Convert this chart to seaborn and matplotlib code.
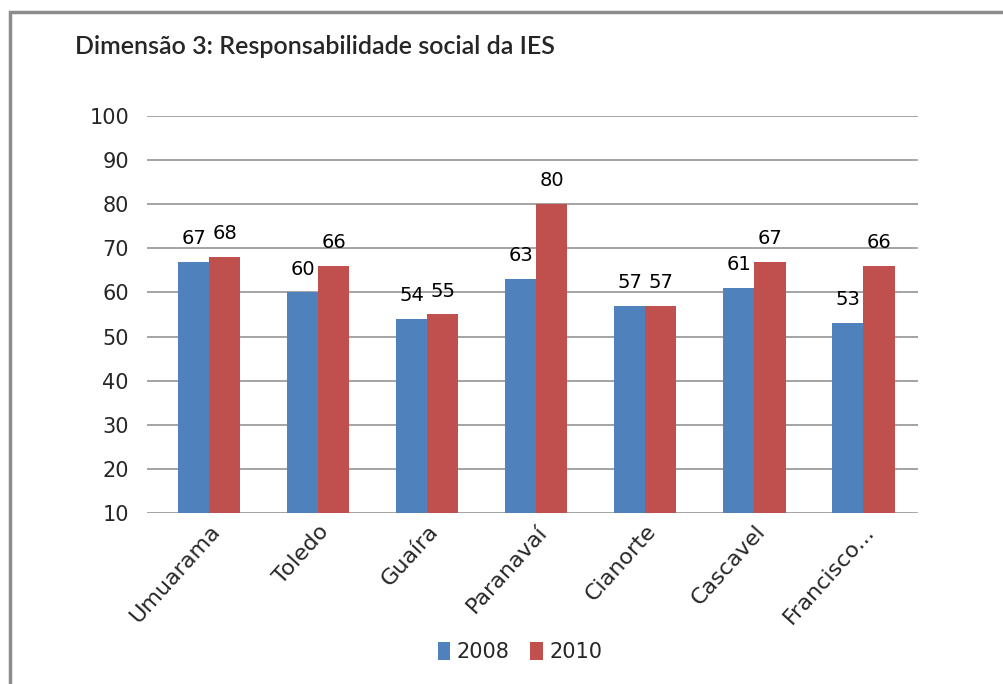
import numpy as np
import pandas as pd
import seaborn as sns
import matplotlib.pyplot as plt
from matplotlib.patches import Rectangle
from matplotlib.ticker import FixedLocator

# dados do grafico
campi = ["Umuarama", "Toledo", "Guaíra", "Paranavaí", "Cianorte", "Cascavel", "Francisco..."]
anos = ["2008", "2010"]
valores_2008 = [67, 60, 54, 63, 57, 61, 53]
valores_2010 = [68, 66, 55, 80, 57, 67, 66]
cores = ["#4F81BD", "#C0504D"]
titulo = "Dimensão 3: Responsabilidade social da IES"

df = pd.DataFrame({
    "campus": campi * 2,
    "ano": [anos[0]] * len(campi) + [anos[1]] * len(campi),
    "valor": valores_2008 + valores_2010,
})

sns.set_style("white")
plt.rcParams["font.family"] = ["DejaVu Sans"]

fig = plt.figure(figsize=(10.04, 6.84), dpi=100)
W, H = 1004, 684
ax = fig.add_axes([147 / W, 1 - 513 / H, (918 - 147) / W, (513 - 116) / H])

sns.barplot(data=df, x="campus", y="valor", hue="ano", palette=cores,
            width=0.57, gap=0, saturation=1, linewidth=0, ax=ax, legend=True)

for cont in ax.containers:
    ax.bar_label(cont, fontsize=14, padding=10, color="black")

ax.set_ylim(10, 100)
ax.set_yticks(range(10, 101, 10))
ax.set_xlim(-0.57, 6.5)
ax.grid(axis="y", color="#8c8c8c", linewidth=1.1)
ax.set_axisbelow(True)
for s in ax.spines.values():
    s.set_visible(False)

ax.tick_params(axis="y", length=0, pad=13, labelsize=15)
ax.tick_params(axis="x", which="major", length=0, pad=6, labelsize=16)
ax.xaxis.set_minor_locator(FixedLocator(np.arange(0.5, 7, 1)))
ax.tick_params(axis="x", which="minor", length=7, width=1, color="#8c8c8c", direction="out")
plt.setp(ax.get_xticklabels(), rotation=48, ha="right", rotation_mode="anchor")
ax.set_xlabel("")
ax.set_ylabel("")

ax.legend(loc="center", bbox_to_anchor=(520 / W, 1 - 652 / H), bbox_transform=fig.transFigure,
          ncol=2, frameon=False, fontsize=15, handlelength=0.6, handleheight=1.0,
          handletextpad=0.3, columnspacing=1.0)

fig.text(75 / W, 1 - 46 / H, titulo, fontsize=18, fontweight="semibold", va="center", ha="left",
         family=["Lato", "DejaVu Sans"])

# moldura do grafico
fig.patches.append(Rectangle((10 / W, -0.1), 1.2, 1 - 12 / H + 0.1, transform=fig.transFigure,
                             fill=False, edgecolor="#8c8c8c", linewidth=2.5))

fig.savefig("out.png", dpi=100)
